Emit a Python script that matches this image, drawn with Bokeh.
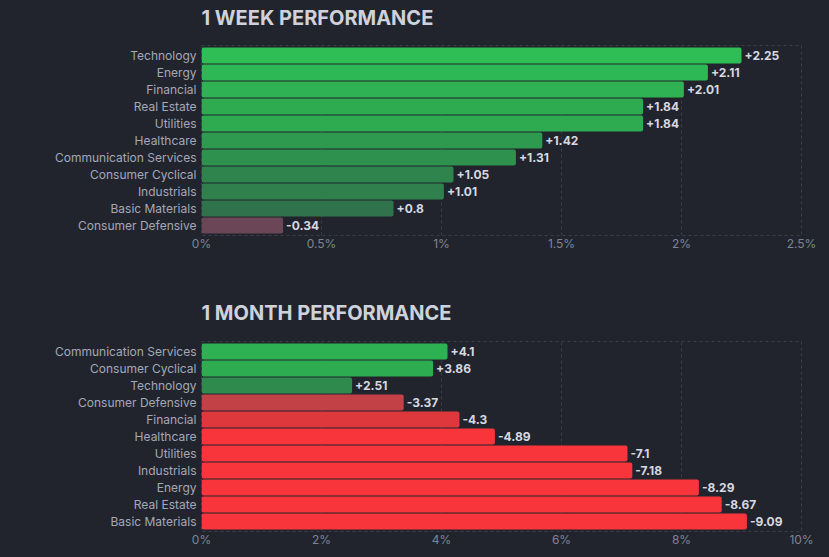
from bokeh.plotting import figure
from bokeh.layouts import column
from bokeh.models import FactorRange, Range1d, FixedTicker, ColumnDataSource, LinearAxis, Title
from bokeh.core.properties import value
from bokeh.embed import file_html
from bokeh.resources import INLINE

# ---- data ----
week_sectors = ["Technology", "Energy", "Financial", "Real Estate", "Utilities", "Healthcare",
                "Communication Services", "Consumer Cyclical", "Industrials", "Basic Materials",
                "Consumer Defensive"]
week_values = [2.25, 2.11, 2.01, 1.84, 1.84, 1.42, 1.31, 1.05, 1.01, 0.8, -0.34]
week_ticks = [0, 0.5, 1, 1.5, 2, 2.5]
week_tick_labels = ["0%", "0.5%", "1%", "1.5%", "2%", "2.5%"]

month_sectors = ["Communication Services", "Consumer Cyclical", "Technology", "Consumer Defensive",
                 "Financial", "Healthcare", "Utilities", "Industrials", "Energy", "Real Estate",
                 "Basic Materials"]
month_values = [4.1, 3.86, 2.51, -3.37, -4.3, -4.89, -7.1, -7.18, -8.29, -8.67, -9.09]
month_ticks = [0, 2, 4, 6, 8, 10]
month_tick_labels = ["0%", "2%", "4%", "6%", "8%", "10%"]

# ---- styles ----
week_colors = ["#2fbd56", "#2eb855", "#2eb253", "#2eaa51", "#2eaa51", "#2e9a4f", "#2e924e",
               "#2f834d", "#2f804d", "#30724b", "#6b4656"]
month_colors = ["#2eb153", "#2eac52", "#2f8a4e", "#c24147", "#de383d", "#f7353a", "#f7353a",
                "#f7353a", "#f7353a", "#f7353a", "#f7353a"]

BG = "#21242d"
GRID = "#3a3e4b"
FONT = "Inter"


def fmt(v):
    s = ("%.2f" % v).rstrip("0").rstrip(".")
    return ("+" + s) if v > 0 else s


def make_chart(title, sectors, values, colors, ticks, tick_labels, xmax, height,
               top_border, bottom_border, spacer):
    src = ColumnDataSource(dict(
        sector=sectors,
        mag=[abs(v) for v in values],
        label=[fmt(v) for v in values],
        color=colors,
    ))
    p = figure(width=829, height=height, output_backend="svg", toolbar_location=None,
               title=None,
               y_range=FactorRange(factors=list(reversed(sectors)), range_padding=0.016),
               x_range=Range1d(0, xmax),
               min_border_left=201, min_border_right=28, min_border_top=top_border,
               min_border_bottom=bottom_border)
    p.background_fill_color = BG
    p.border_fill_color = BG
    p.outline_line_color = GRID
    p.outline_line_dash = "3 3"

    # invisible spacer between the title and the plot area
    gap = LinearAxis(ticker=FixedTicker(ticks=[0]), axis_line_color=None,
                     major_tick_line_alpha=0, minor_tick_line_color=None,
                     major_tick_out=spacer, major_tick_in=0, minor_tick_out=0,
                     minor_tick_in=0, major_label_standoff=0,
                     major_label_overrides={0: ""},
                     major_label_text_font_size="1px")
    p.add_layout(gap, "above")
    p.add_layout(Title(text=title, text_font=FONT, text_font_size="20px",
                       text_font_style="bold", text_color="#cfd2db",
                       align="left", standoff=6), "above")

    p.hbar(y="sector", right="mag", left=0, height=0.93, source=src,
           fill_color="color", line_color=None, border_radius=2)
    p.text(x="mag", y="sector", text="label", source=src, x_offset=3,
           text_baseline="middle", text_align="left",
           text_font=value(FONT), text_font_size="12px", text_font_style="bold",
           text_color="#d7d9e0")

    xax = p.below[0]
    yax = p.left[0]
    xax.ticker = FixedTicker(ticks=ticks)
    xax.major_label_overrides = {t: l for t, l in zip(ticks, tick_labels)}
    for ax in (xax, yax):
        ax.axis_line_color = None
        ax.major_tick_line_color = None
        ax.minor_tick_line_color = None
        ax.major_tick_out = 0
        ax.major_tick_in = 0
        ax.minor_tick_out = 0
        ax.minor_tick_in = 0
        ax.major_label_text_font = FONT
        ax.major_label_text_font_size = "12px"
    xax.major_label_text_color = "#7f8495"
    xax.major_label_standoff = 0
    yax.major_label_text_color = "#a4a8b8"
    yax.major_label_standoff = 5

    p.xgrid.grid_line_color = GRID
    p.xgrid.grid_line_dash = "3 3"
    p.ygrid.grid_line_color = None
    return p


p1 = make_chart("1 WEEK PERFORMANCE", week_sectors, week_values, week_colors,
                week_ticks, week_tick_labels, 2.5, 290, 45, 55, 13)
p2 = make_chart("1 MONTH PERFORMANCE", month_sectors, month_values, month_colors,
                month_ticks, month_tick_labels, 10, 267, 51, 26, 14)

layout = column(p1, p2, spacing=0, styles={"background-color": BG})
html = file_html(layout, INLINE)
html = html.replace("<body>", '<body style="background-color:%s;">' % BG)
open("out.html", "w").write(html)
